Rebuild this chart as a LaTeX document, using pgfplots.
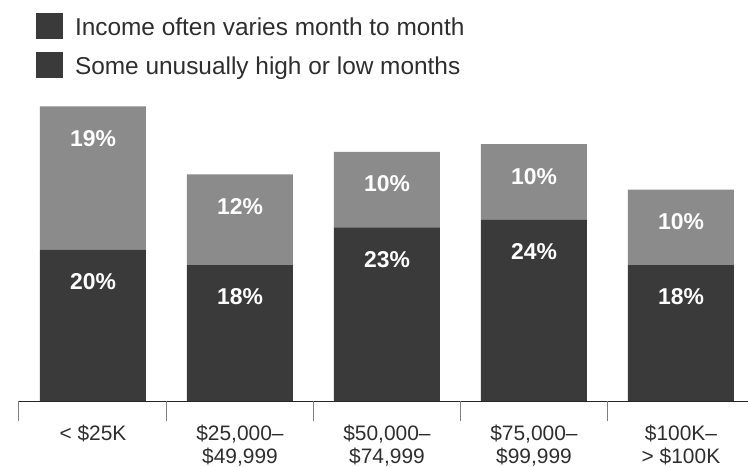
\documentclass[border=0pt]{standalone}
\usepackage{pgfplots}
\pgfplotsset{compat=1.18}
\usepackage{fontspec}
\setmainfont{Liberation Sans}
\definecolor{darkbar}{HTML}{3A3A3A}
\definecolor{lightbar}{HTML}{8B8B8B}
\definecolor{txt}{HTML}{2E2E2E}
\begin{document}
\begin{tikzpicture}
\begin{axis}[
  scale only axis, width=730bp, height=401bp,
  xmin=-0.51, xmax=4.456, ymin=0, ymax=53.1,
  axis x line*=bottom, axis y line=none,
  x axis line style={color=black!85, line width=0.9bp},
  ybar stacked, bar width=106bp, bar shift=0pt,
  xtick={0,1,2,3,4}, major tick length=0pt,
  xticklabels={{< \$25K},{\$25,000–\\\$49,999},{\$50,000–\\\$74,999},{\$75,000–\\\$99,999},{\$100K–\\> \$100K}},
  xticklabel style={align=center, font=\fontsize{21}{23}\selectfont, text=txt, anchor=north, inner sep=0pt, yshift=-24bp},
  extra x ticks={-0.51,0.5,1.5,2.5,3.5}, extra x tick labels={},
  extra x tick style={major tick length=20bp, xtick align=outside, tick style={color=gray, line width=0.6bp}},
  nodes near coords, point meta=explicit symbolic,
  visualization depends on={rawy \as \rawy},
  every node near coord/.append style={anchor=center, yshift=\rawy*3.775bp-32bp, font=\bfseries\fontsize{23}{26}\selectfont, text=white},
  legend image code/.code={\fill[#1] (0bp,-12bp) rectangle (27bp,14bp);},
  legend style={at={(0.0247,0.9676)}, anchor=north west, draw=none, fill=none, inner sep=0pt, outer sep=0pt,
    font=\fontsize{24.5}{28}\selectfont, text=txt, row sep=13bp,
    nodes={inner sep=0pt, text=txt}},
  legend cell align=left,
]
\addlegendimage{fill=darkbar, draw=none}
\addlegendentry{\hspace{12bp}Income often varies month to month}
\addlegendimage{fill=darkbar, draw=none}
\addlegendentry{\hspace{12bp}Some unusually high or low months}
\addplot[fill=darkbar, draw=none, forget plot] coordinates {(0,20)[20\%] (1,18)[18\%] (2,23)[23\%] (3,24)[24\%] (4,18)[18\%]};
\addplot[fill=lightbar, draw=none, forget plot] coordinates {(0,19)[19\%] (1,12)[12\%] (2,10)[10\%] (3,10)[10\%] (4,10)[10\%]};
\end{axis}
\pgfresetboundingbox
\path[use as bounding box] (-18bp,-66bp) rectangle (730bp,401bp);
\end{tikzpicture}
\end{document}
